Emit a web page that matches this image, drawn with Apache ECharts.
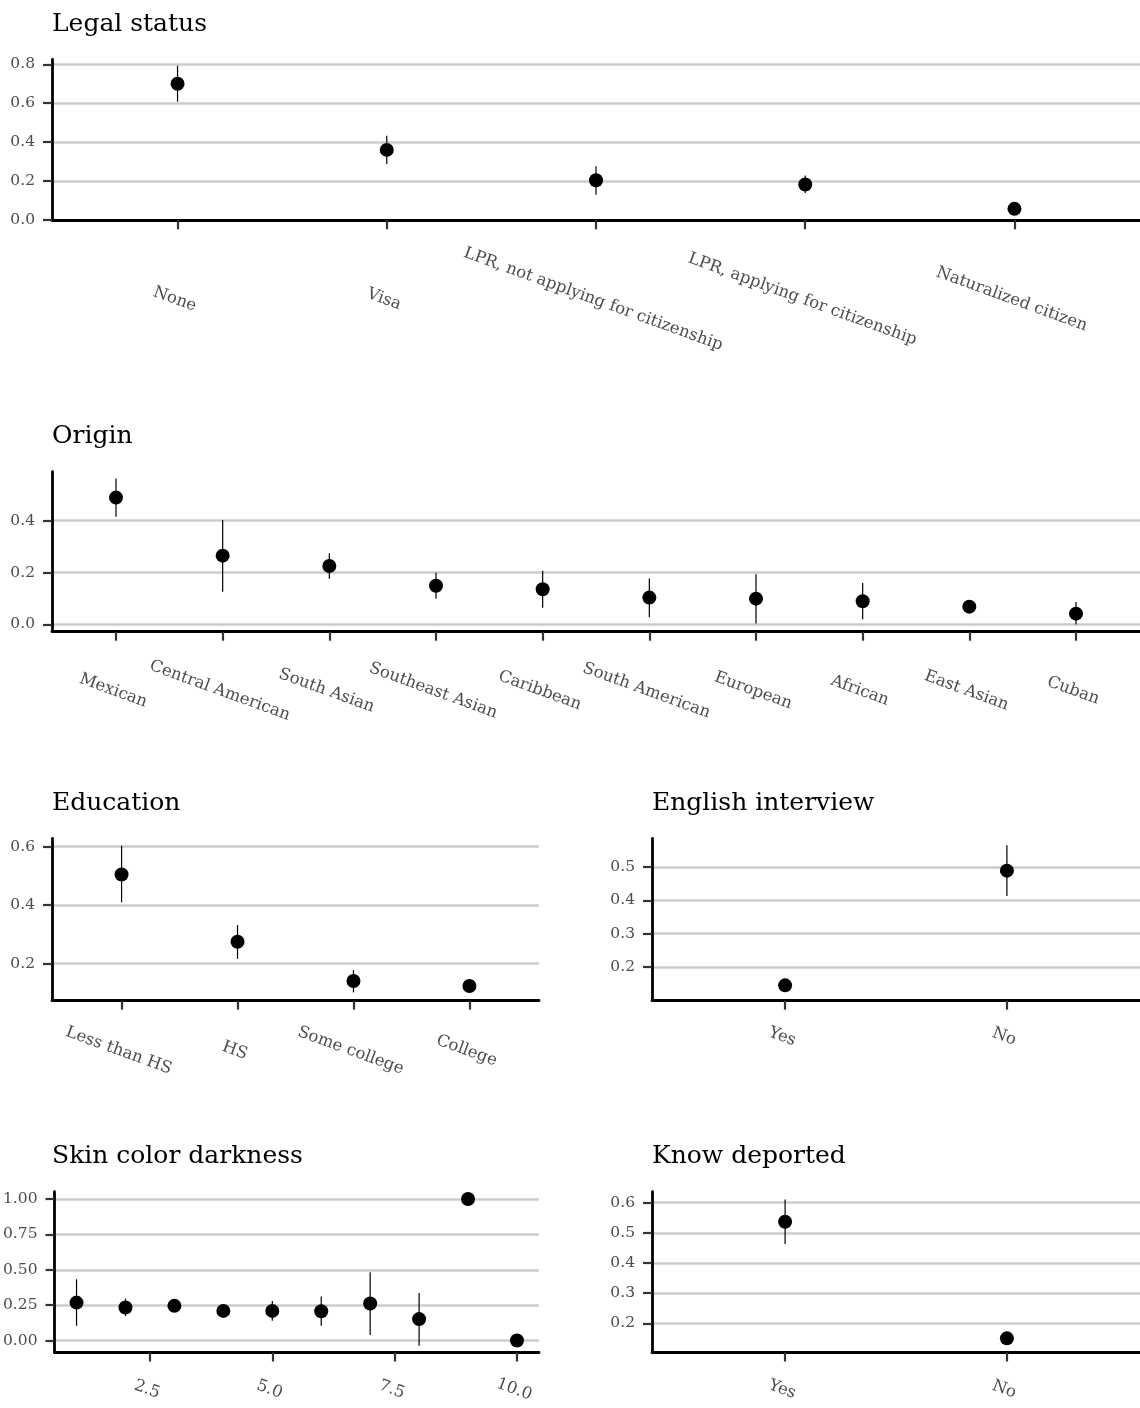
<!DOCTYPE html>
<html><head><meta charset="utf-8">
<script src="https://cdn.jsdelivr.net/npm/echarts@6/dist/echarts.min.js"></script>
<style>html,body{margin:0;padding:0;background:#fff}#c{width:1140px;height:1408px}</style>
</head><body><div id="c"></div>
<script>
// ---------- data ----------
const legalCats = ['None', 'Visa', 'LPR, not applying for citizenship', 'LPR, applying for citizenship', 'Naturalized citizen'];
const legalEst  = [0.700, 0.360, 0.204, 0.182, 0.057];
const legalLo   = [0.608, 0.287, 0.130, 0.139, 0.040];
const legalHi   = [0.793, 0.433, 0.276, 0.228, 0.074];
const legalYTicks = [0, 0.2, 0.4, 0.6, 0.8];

const originCats = ['Mexican', 'Central American', 'South Asian', 'Southeast Asian', 'Caribbean', 'South American', 'European', 'African', 'East Asian', 'Cuban'];
const originEst  = [0.489, 0.265, 0.225, 0.149, 0.135, 0.103, 0.099, 0.089, 0.068, 0.041];
const originLo   = [0.415, 0.126, 0.176, 0.099, 0.064, 0.027, 0.003, 0.019, 0.056, -0.001];
const originHi   = [0.563, 0.403, 0.274, 0.199, 0.207, 0.177, 0.193, 0.159, 0.080, 0.086];
const originYTicks = [0, 0.2, 0.4];

const eduCats = ['Less than HS', 'HS', 'Some college', 'College'];
const eduEst  = [0.505, 0.275, 0.141, 0.124];
const eduLo   = [0.410, 0.217, 0.102, 0.110];
const eduHi   = [0.603, 0.332, 0.178, 0.138];
const eduYTicks = [0.2, 0.4, 0.6];

const engCats = ['Yes', 'No'];
const engEst  = [0.145, 0.489];
const engLo   = [0.128, 0.413];
const engHi   = [0.162, 0.565];
const engYTicks = [0.2, 0.3, 0.4, 0.5];

const skinX   = [1, 2, 3, 4, 5, 6, 7, 8, 9, 10];
const skinEst = [0.268, 0.233, 0.245, 0.209, 0.209, 0.207, 0.261, 0.151, 1.000, 0.000];
const skinLo  = [0.104, 0.172, 0.222, 0.170, 0.139, 0.104, 0.038, -0.038, 1.000, 0.000];
const skinHi  = [0.433, 0.296, 0.268, 0.245, 0.280, 0.311, 0.482, 0.336, 1.000, 0.000];
const skinXTicks = [2.5, 5.0, 7.5, 10.0];
const skinYTicks = [0, 0.25, 0.5, 0.75, 1.0];

const knowCats = ['Yes', 'No'];
const knowEst  = [0.537, 0.150];
const knowLo   = [0.463, 0.132];
const knowHi   = [0.611, 0.168];
const knowYTicks = [0.2, 0.3, 0.4, 0.5, 0.6];

const titles = ['Legal status', 'Origin', 'Education', 'English interview', 'Skin color darkness', 'Know deported'];

// ---------- layout / style ----------
const FONT = 'DejaVu Serif';
const idx = n => Array.from({length: n}, (_, i) => i + 1);

const panels = [
  {cats: legalCats, est: legalEst, lo: legalLo, hi: legalHi, yTicks: legalYTicks, dec: 1,
   grid: {left: 52, top: 59.3, width: 1088, height: 161}, ymin: -0.002, ymax: 0.826, margin: 80},
  {cats: originCats, est: originEst, lo: originLo, hi: originHi, yTicks: originYTicks, dec: 1,
   grid: {left: 52, top: 471.7, width: 1088, height: 160}, ymin: -0.0286, ymax: 0.589, margin: 60},
  {cats: eduCats, est: eduEst, lo: eduLo, hi: eduHi, yTicks: eduYTicks, dec: 1,
   grid: {left: 52, top: 838.3, width: 487, height: 162.4}, ymin: 0.0735, ymax: 0.6287, margin: 51},
  {cats: engCats, est: engEst, lo: engLo, hi: engHi, yTicks: engYTicks, dec: 1,
   grid: {left: 652, top: 838.3, width: 488, height: 162.4}, ymin: 0.0989, ymax: 0.586, margin: 37},
  {xs: skinX, xTicks: skinXTicks, est: skinEst, lo: skinLo, hi: skinHi, yTicks: skinYTicks, dec: 2,
   grid: {left: 52, top: 1191.7, width: 487, height: 160.8}, ymin: -0.085, ymax: 1.052, xmin: 0.55, xmax: 10.45, margin: 38},
  {cats: knowCats, est: knowEst, lo: knowLo, hi: knowHi, yTicks: knowYTicks, dec: 1,
   grid: {left: 652, top: 1191.7, width: 488, height: 160.8}, ymin: 0.103, ymax: 0.6365, margin: 38}
];

const grids = [], xAxes = [], yAxes = [], series = [], titleOpts = [];
panels.forEach((p, i) => {
  const xs = p.xs || idx(p.cats.length);
  const xTickVals = p.xTicks || xs;
  const xmin = p.xmin !== undefined ? p.xmin : 0.4;
  const xmax = p.xmax !== undefined ? p.xmax : p.cats.length + 0.6;
  grids.push(Object.assign({containLabel: false}, p.grid));
  titleOpts.push({
    text: titles[i], left: p.grid.left, top: p.grid.top - 47.5, padding: 0,
    textStyle: {fontFamily: FONT, fontSize: 25, fontWeight: 'normal', color: '#000'}
  });
  xAxes.push({
    type: 'value', gridIndex: i, min: xmin, max: xmax,
    axisLine: {show: true, onZero: false, lineStyle: {color: '#000', width: 2.8}},
    axisTick: {show: true, customValues: xTickVals, length: 9, lineStyle: {color: '#333', width: 2.2}},
    axisLabel: {
      customValues: xTickVals, rotate: -20, align: 'center', verticalAlign: 'middle', margin: p.margin,
      fontFamily: FONT, fontSize: 16.5, color: '#4d4d4d', padding: [0, 6, 0, 0],
      formatter: v => p.cats ? p.cats[Math.round(v) - 1] : Number(v).toFixed(1)
    },
    splitLine: {show: false}
  });
  yAxes.push({
    type: 'value', gridIndex: i, min: p.ymin, max: p.ymax,
    axisLine: {show: true, onZero: false, lineStyle: {color: '#000', width: 2.8}},
    axisTick: {show: true, customValues: p.yTicks, length: 9, lineStyle: {color: '#333', width: 2.2}},
    axisLabel: {customValues: p.yTicks, margin: 17, fontFamily: FONT, fontSize: 15.5, color: '#4d4d4d',
      formatter: v => Number(v).toFixed(p.dec)},
    splitLine: {show: true, lineStyle: {color: '#cccccc', width: 2.5}}
  });
  series.push({
    type: 'custom', xAxisIndex: i, yAxisIndex: i, z: 2,
    encode: {x: 0, y: [1, 2]},
    data: xs.map((x, j) => [x, p.lo[j], p.hi[j]]),
    renderItem: (params, api) => {
      const a = api.coord([api.value(0), api.value(1)]);
      const b = api.coord([api.value(0), api.value(2)]);
      return {type: 'line', shape: {x1: a[0], y1: a[1], x2: b[0], y2: b[1]},
              style: {stroke: '#000', lineWidth: 1.2}};
    }
  });
  series.push({
    type: 'scatter', xAxisIndex: i, yAxisIndex: i, z: 3,
    symbol: 'circle', symbolSize: 14, itemStyle: {color: '#000', opacity: 1},
    data: xs.map((x, j) => [x, p.est[j]])
  });
});

const chart = echarts.init(document.getElementById('c'));
chart.setOption({
  animation: false, backgroundColor: '#fff',
  title: titleOpts, grid: grids, xAxis: xAxes, yAxis: yAxes, series: series
});
</script></body></html>
